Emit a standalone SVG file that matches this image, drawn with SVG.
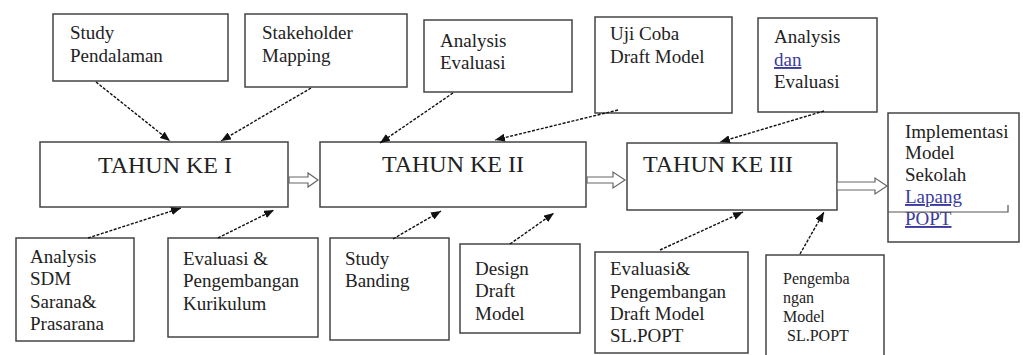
<svg xmlns="http://www.w3.org/2000/svg" width="1023" height="355" viewBox="0 0 1023 355">
<defs>
<marker id="ah" viewBox="0 0 10 8" refX="10" refY="4" markerWidth="10" markerHeight="8" markerUnits="userSpaceOnUse" orient="auto">
<path d="M0,0 L10,4 L0,8 Z" fill="#111"/>
</marker>
</defs>
<style>
rect.b{fill:#fff;stroke:#444;stroke-width:1.5}
text{font-family:"Liberation Serif","Times New Roman",serif;fill:#222}
.s{font-size:19px}
.t{font-size:16px}
.m{font-size:24px}
.lnk{fill:#3a3a9e;text-decoration:underline}
.c{stroke:#111;stroke-width:1.4;stroke-dasharray:3 1.5;fill:none}
.h{fill:#fff;stroke:#666;stroke-width:1.2}
</style>
<rect width="1023" height="355" fill="#fff"/>

<g id="n-study">
<rect class="b" x="53" y="14" width="175" height="67"/>
<text class="s" x="70" y="39">Study</text>
<text class="s" x="70" y="62">Pendalaman</text>
</g>
<g id="n-stakeholder">
<rect class="b" x="245" y="14" width="162" height="73"/>
<text class="s" x="262" y="39">Stakeholder</text>
<text class="s" x="262" y="62">Mapping</text>
</g>
<g id="n-analysis1">
<rect class="b" x="424" y="20" width="148" height="72"/>
<text class="s" x="440" y="47">Analysis</text>
<text class="s" x="440" y="69">Evaluasi</text>
</g>
<g id="n-ujicoba">
<rect class="b" x="595" y="17" width="137" height="96"/>
<text class="s" x="610" y="40">Uji Coba</text>
<text class="s" x="610" y="63">Draft Model</text>
</g>
<g id="n-analysis2">
<rect class="b" x="758" y="18" width="119" height="94"/>
<text class="s" x="774" y="43">Analysis</text>
<text class="s lnk" x="774" y="66">dan</text>
<text class="s" x="774" y="88">Evaluasi</text>
</g>

<g id="n-tahun1">
<rect class="b" x="40" y="142" width="248" height="65"/>
<text class="m" x="165" y="173" text-anchor="middle">TAHUN KE I</text>
</g>
<g id="n-tahun2">
<rect class="b" x="320" y="142" width="266" height="65"/>
<text class="m" x="453" y="172" text-anchor="middle">TAHUN KE II</text>
</g>
<g id="n-tahun3">
<rect class="b" x="627" y="143" width="210" height="67"/>
<text class="m" x="643" y="172">TAHUN KE III</text>
</g>
<g id="n-implementasi">
<rect class="b" x="888" y="113" width="131" height="129"/>
<text class="s" x="905" y="138">Implementasi</text>
<text class="s" x="905" y="159">Model</text>
<text class="s" x="905" y="181">Sekolah</text>
<text class="s lnk" x="905" y="203">Lapang</text>
<text class="s lnk" x="905" y="225">POPT</text>
<path d="M888,212 H1008 V205" fill="none" stroke="#555" stroke-width="1.2"/>
</g>

<g id="n-sdm">
<rect class="b" x="16" y="238" width="118" height="103"/>
<text class="s" x="30" y="263">Analysis</text>
<text class="s" x="30" y="285">SDM</text>
<text class="s" x="30" y="308">Sarana&amp;</text>
<text class="s" x="30" y="330">Prasarana</text>
</g>
<g id="n-kurikulum">
<rect class="b" x="168" y="238" width="150" height="99"/>
<text class="s" x="183" y="265">Evaluasi &amp;</text>
<text class="s" x="183" y="287">Pengembangan</text>
<text class="s" x="183" y="310">Kurikulum</text>
</g>
<g id="n-banding">
<rect class="b" x="330" y="238" width="119" height="102"/>
<text class="s" x="345" y="265">Study</text>
<text class="s" x="345" y="287">Banding</text>
</g>
<g id="n-design">
<rect class="b" x="460" y="244" width="120" height="89"/>
<text class="s" x="475" y="275">Design</text>
<text class="s" x="475" y="297">Draft</text>
<text class="s" x="475" y="320">Model</text>
</g>
<g id="n-evaldraft">
<rect class="b" x="595" y="252" width="153" height="101"/>
<text class="s" x="610" y="275">Evaluasi&amp;</text>
<text class="s" x="610" y="298">Pengembangan</text>
<text class="s" x="610" y="320">Draft Model</text>
<text class="s" x="610" y="342">SL.POPT</text>
</g>
<g id="n-pengembangan">
<rect class="b" x="766" y="255" width="118" height="105"/>
<text class="t" x="783" y="284">Pengemba</text>
<text class="t" x="783" y="303">ngan</text>
<text class="t" x="783" y="322">Model</text>
<text class="t" x="783" y="341" xml:space="preserve"> SL.POPT</text>
</g>

<g id="connectors">
<line class="c" x1="96" y1="82" x2="170" y2="141" marker-end="url(#ah)"/>
<line class="c" x1="311" y1="88" x2="221" y2="141" marker-end="url(#ah)"/>
<line class="c" x1="453" y1="93" x2="380" y2="143" marker-end="url(#ah)"/>
<line class="c" x1="618" y1="110" x2="495" y2="140" marker-end="url(#ah)"/>
<line class="c" x1="824" y1="111" x2="720" y2="142" marker-end="url(#ah)"/>
<line class="c" x1="88" y1="238" x2="181" y2="208" marker-end="url(#ah)"/>
<line class="c" x1="218" y1="238" x2="274" y2="210" marker-end="url(#ah)"/>
<line class="c" x1="393" y1="239" x2="441" y2="211" marker-end="url(#ah)"/>
<line class="c" x1="510" y1="244" x2="554" y2="213" marker-end="url(#ah)"/>
<line class="c" x1="660" y1="250" x2="743" y2="212" marker-end="url(#ah)"/>
<line class="c" x1="800" y1="254" x2="824" y2="212" marker-end="url(#ah)"/>
<polygon class="h" points="289,177 308,177 308,173 318,180 308,187 308,183 289,183"/>
<polygon class="h" points="587,177 613,177 613,172 625,180 613,188 613,183 587,183"/>
<polygon class="h" points="837,182 875,182 875,178 887,186 875,194 875,190 837,190"/>
</g>
</svg>
